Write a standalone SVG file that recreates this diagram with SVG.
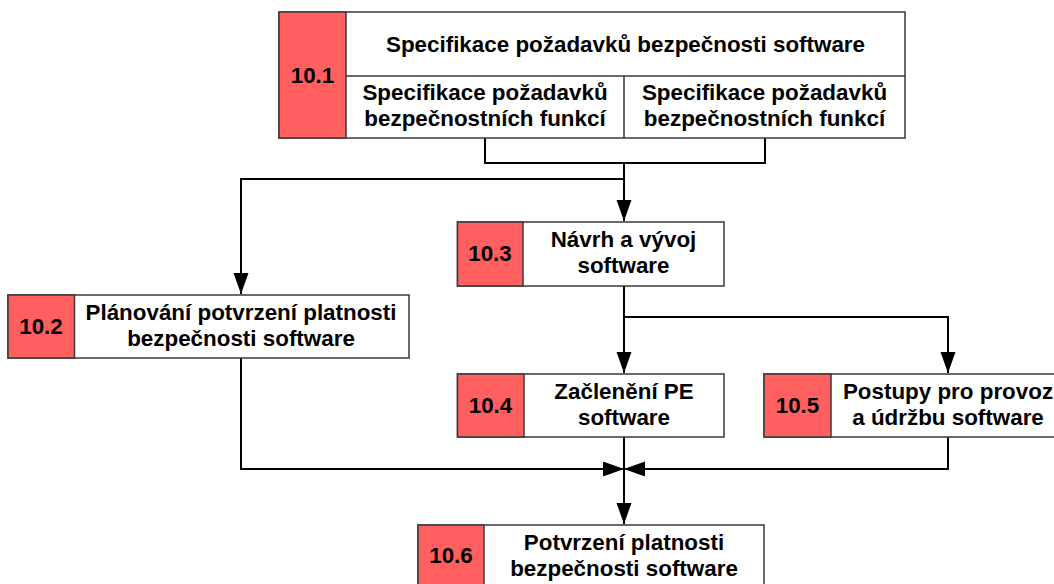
<svg xmlns="http://www.w3.org/2000/svg" width="1054" height="584" viewBox="0 0 1054 584">
<style>
.box{fill:#ffffff;stroke:#3a3a3a;stroke-width:1.5}
.num{fill:#ff5f5f;stroke:#3a3a3a;stroke-width:1.5}
.div{stroke:#3a3a3a;stroke-width:1.5;fill:none}
.t{font-family:"Liberation Sans",Arial,sans-serif;font-weight:bold;font-size:22.4px;fill:#000;text-anchor:middle}
.c{fill:none;stroke:#000;stroke-width:2}
</style>
<defs>
<marker id="ah" markerUnits="userSpaceOnUse" markerWidth="22" markerHeight="16" refX="21" refY="7.5" orient="auto">
<path d="M0,0 L21,7.5 L0,15 Z" fill="#000"/>
</marker>
</defs>
<rect width="1054" height="584" fill="#ffffff"/>
<g id="connectors">
<path class="c" d="M485,138 V163 H765 V138"/>
<path class="c" d="M624,163 V221" marker-end="url(#ah)"/>
<path class="c" d="M624,179 H241 V294" marker-end="url(#ah)"/>
<path class="c" d="M624,286 V373" marker-end="url(#ah)"/>
<path class="c" d="M624,317 H948 V373" marker-end="url(#ah)"/>
<path class="c" d="M241,358 V469 H624" marker-end="url(#ah)"/>
<path class="c" d="M948,437 V469 H624" marker-end="url(#ah)"/>
<path class="c" d="M624,437 V524" marker-end="url(#ah)"/>
</g>
<g id="n10_1">
<rect class="box" x="279" y="12" width="626" height="126"/>
<rect class="num" x="279" y="12" width="67" height="126"/>
<path class="div" d="M346,76 H905 M624,76 V138"/>
<text class="t" x="312.5" y="83">10.1</text>
<text class="t" x="625.5" y="52">Specifikace požadavků bezpečnosti software</text>
<text class="t" x="485" y="100">Specifikace požadavků</text>
<text class="t" x="485" y="126">bezpečnostních funkcí</text>
<text class="t" x="764.5" y="100">Specifikace požadavků</text>
<text class="t" x="764.5" y="126">bezpečnostních funkcí</text>
</g>
<g id="n10_2">
<rect class="box" x="8" y="295" width="401" height="63"/>
<rect class="num" x="8" y="295" width="66.5" height="63"/>
<text class="t" x="41" y="334">10.2</text>
<text class="t" x="241" y="320">Plánování potvrzení platnosti</text>
<text class="t" x="241" y="346">bezpečnosti software</text>
</g>
<g id="n10_3">
<rect class="box" x="457.5" y="222" width="266.5" height="64"/>
<rect class="num" x="457.5" y="222" width="65.5" height="64"/>
<text class="t" x="490" y="261">10.3</text>
<text class="t" x="623.5" y="247">Návrh a vývoj</text>
<text class="t" x="623.5" y="273">software</text>
</g>
<g id="n10_4">
<rect class="box" x="457.5" y="374" width="266.5" height="63"/>
<rect class="num" x="457.5" y="374" width="66.5" height="63"/>
<text class="t" x="490.5" y="413">10.4</text>
<text class="t" x="624" y="399">Začlenění PE</text>
<text class="t" x="624" y="425">software</text>
</g>
<g id="n10_5">
<rect class="box" x="764" y="374" width="300" height="63"/>
<rect class="num" x="764" y="374" width="67" height="63"/>
<text class="t" x="797.5" y="413">10.5</text>
<text class="t" x="948" y="399">Postupy pro provoz</text>
<text class="t" x="948" y="425">a údržbu software</text>
</g>
<g id="n10_6">
<rect class="box" x="418" y="525" width="346" height="70"/>
<rect class="num" x="418" y="525" width="66" height="70"/>
<text class="t" x="451" y="563">10.6</text>
<text class="t" x="624" y="550">Potvrzení platnosti</text>
<text class="t" x="624" y="576">bezpečnosti software</text>
</g>
</svg>
